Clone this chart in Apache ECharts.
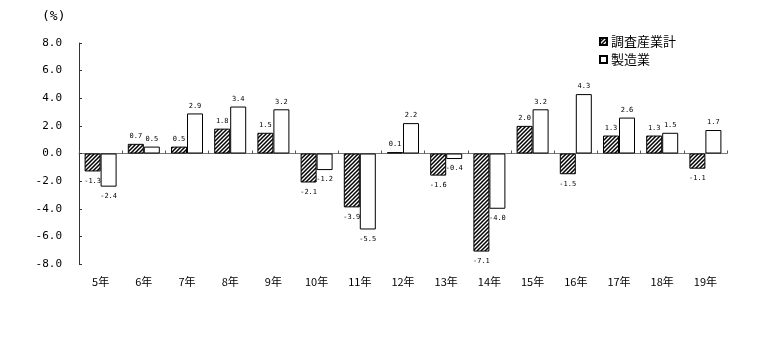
<!DOCTYPE html>
<html><head><meta charset="utf-8">
<script src="https://cdn.jsdelivr.net/npm/echarts@6/dist/echarts.min.js"></script>
<style>html,body{margin:0;padding:0;background:#fff}#c{width:768px;height:339px}</style>
</head><body><div id="c"></div>
<script>
const categories = ['5年','6年','7年','8年','9年','10年','11年','12年','13年','14年','15年','16年','17年','18年','19年'];
const allIndustries = [-1.3, 0.7, 0.5, 1.8, 1.5, -2.1, -3.9, 0.1, -1.6, -7.1, 2.0, -1.5, 1.3, 1.3, -1.1];
const manufacturing = [-2.4, 0.5, 2.9, 3.4, 3.2, -1.2, -5.5, 2.2, -0.4, -4.0, 3.2, 4.3, 2.6, 1.5, 1.7];
const seriesNames = ['調査産業計', '製造業'];
const yTicks = [-8, -6, -4, -2, 0, 2, 4, 6, 8];

// hatch pattern
const pc = document.createElement('canvas');
pc.width = 4; pc.height = 4;
const g = pc.getContext('2d');
g.fillStyle = '#fff'; g.fillRect(0,0,4,4);
g.strokeStyle = '#000'; g.lineWidth = 1.5;
g.beginPath();
g.moveTo(-1,5); g.lineTo(5,-1);
g.moveTo(-1,1); g.lineTo(1,-1);
g.moveTo(3,5); g.lineTo(5,3);
g.stroke();
const hatch = {image: pc, repeat: 'repeat'};

function mk(vals){
  return vals.map(v => ({value: v, label: {position: v >= 0 ? 'top' : 'bottom', distance: v >= 0 ? 4 : 6}}));
}
const labelStyle = {show: true, fontSize: 7, fontFamily: 'DejaVu Sans Mono', color: '#000',
  formatter: p => p.value.toFixed(1)};

const chart = echarts.init(document.getElementById('c'), null, {renderer: 'canvas'});
chart.setOption({
  backgroundColor: '#fff',
  animation: false,
  grid: {left: 79, right: 41, top: 43, bottom: 75},
  legend: {
    orient: 'vertical', left: 594, top: 30, itemWidth: 7, itemHeight: 7, itemGap: 5,
    icon: 'rect',
    textStyle: {fontSize: 13, fontFamily: 'Noto Sans CJK JP', color: '#000', padding: [0,0,0,-1]},
    data: seriesNames
  },
  graphic: [{type: 'text', left: 42, top: 10, style: {text: '(%)', fontSize: 13, fontFamily: 'DejaVu Sans Mono', fill: '#000'}}],
  xAxis: [
    {type: 'category', data: categories, position: 'bottom',
     axisLine: {show: false, onZero: false}, axisTick: {show: false},
     axisLabel: {margin: 12, fontSize: 11, fontFamily: 'Noto Sans CJK JP', color: '#000'}},
    {type: 'category', data: categories, position: 'bottom',
     axisLine: {show: true, onZero: true, lineStyle: {color: '#777', width: 1}},
     axisTick: {show: true, inside: true, length: 3, lineStyle: {color: '#555'}},
     axisLabel: {show: false}}
  ],
  yAxis: {
    type: 'value', min: -8, max: 8, interval: 2,
    axisLine: {show: true, lineStyle: {color: '#333'}},
    axisTick: {show: true, inside: true, length: 3, lineStyle: {color: '#333'}},
    splitLine: {show: false},
    axisLabel: {margin: 17, fontSize: 11, fontFamily: 'DejaVu Sans Mono', color: '#000',
      formatter: v => yTicks.includes(v) ? v.toFixed(1) : ''}
  },
  series: [
    {name: seriesNames[0], type: 'bar', xAxisIndex: 0, data: mk(allIndustries),
     barWidth: 16, barGap: '0%',
     itemStyle: {color: hatch, borderColor: '#000', borderWidth: 1},
     label: labelStyle},
    {name: seriesNames[1], type: 'bar', xAxisIndex: 0, data: mk(manufacturing),
     barWidth: 16, barGap: '0%',
     itemStyle: {color: '#fff', borderColor: '#000', borderWidth: 1},
     label: labelStyle}
  ]
});
</script></body></html>
